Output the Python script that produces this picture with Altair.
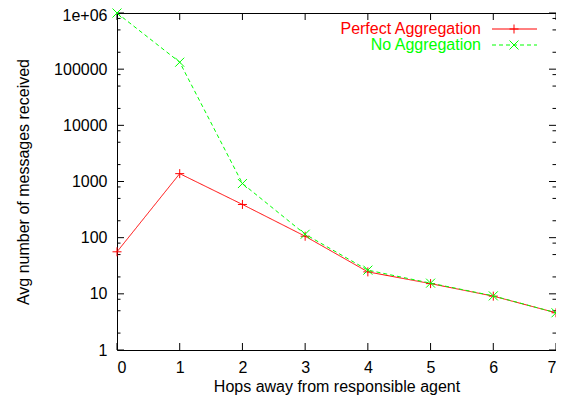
import altair as alt
import pandas as pd

hops = [0, 1, 2, 3, 4, 5, 6, 7]
perfect = [56, 1380, 390, 106, 24.6, 15.2, 9.1, 4.6]
noagg = [1000000, 133000, 920, 115, 26.4, 15.5, 9.2, 4.6]
series_names = ["Perfect Aggregation", "No Aggregation"]
series_colors = ["#ff0000", "#00ff00"]

x_ticks = [0, 1, 2, 3, 4, 5, 6, 7]
y_major = [1, 10, 100, 1000, 10000, 100000, 1000000]
y_minor = [m * 10 ** e for e in range(6) for m in (2, 5, 8)]

W, H = 439, 337
FONT = "Liberation Sans"
FS = 16

xs = alt.Scale(domain=[0, 7], nice=False, zero=False)
ys = alt.Scale(type="log", domain=[1, 1000000], nice=False)

PLUS = "M-1,0L1,0M0,-1L0,1"
CROSS = "M-1,-1L1,1M-1,1L1,-1"
shapes = [PLUS, CROSS]
dashes = [[1, 0], [4, 3]]

layers = []

base_df = pd.DataFrame({"x": hops, "y": perfect})
axis_layer = alt.Chart(base_df).mark_point(opacity=0).encode(
    x=alt.X("x:Q", scale=xs,
            axis=alt.Axis(values=x_ticks, title="Hops away from responsible agent",
                          ticks=False, domain=False, grid=False, labelPadding=9,
                          titlePadding=3, format="d")),
    y=alt.Y("y:Q", scale=ys,
            axis=alt.Axis(values=y_major, title="Avg number of messages received",
                          ticks=False, domain=False, grid=False, labelPadding=10,
                          titlePadding=22,
                          labelOffset={"condition": {"test": "datum.value >= 1000000", "value": 2},
                                       "value": 0},
                          labelExpr="datum.value >= 1000000 ? '1e+06' : format(datum.value, 'd')")),
)
layers.append(axis_layer)

xt = pd.DataFrame({"x": x_ticks})
layers.append(alt.Chart(xt).mark_rule(color="black", strokeWidth=1).encode(
    x=alt.X("x:Q", scale=xs), y=alt.value(H), y2=alt.value(H - 7)))
layers.append(alt.Chart(xt).mark_rule(color="black", strokeWidth=1).encode(
    x=alt.X("x:Q", scale=xs), y=alt.value(0), y2=alt.value(7)))
ym = pd.DataFrame({"y": y_major})
yn = pd.DataFrame({"y": y_minor})
for d, L in ((ym, 7), (yn, 3.5)):
    layers.append(alt.Chart(d).mark_rule(color="black", strokeWidth=1).encode(
        y=alt.Y("y:Q", scale=ys), x=alt.value(0), x2=alt.value(L)))
    layers.append(alt.Chart(d).mark_rule(color="black", strokeWidth=1).encode(
        y=alt.Y("y:Q", scale=ys), x=alt.value(W), x2=alt.value(W - L)))

for vals, name, col, shp, dash in zip([perfect, noagg], series_names, series_colors, shapes, dashes):
    df = pd.DataFrame({"x": hops, "y": vals})
    layers.append(alt.Chart(df).mark_line(color=col, strokeWidth=1, strokeDash=dash).encode(
        x=alt.X("x:Q", scale=xs), y=alt.Y("y:Q", scale=ys)))
    layers.append(alt.Chart(df).mark_point(color=col, shape=shp, size=81, filled=False,
                                           strokeWidth=1, opacity=1).encode(
        x=alt.X("x:Q", scale=xs), y=alt.Y("y:Q", scale=ys)))

leg_y = [16, 32]
for i, (name, col, shp, dash) in enumerate(zip(series_names, series_colors, shapes, dashes)):
    ld = pd.DataFrame({"name": [name]})
    layers.append(alt.Chart(ld).mark_text(align="right", baseline="middle", font=FONT,
                                          fontSize=FS, color=col).encode(
        text="name:N", x=alt.value(364), y=alt.value(leg_y[i])))
    layers.append(alt.Chart(ld).mark_rule(color=col, strokeWidth=1, strokeDash=dash).encode(
        x=alt.value(375), x2=alt.value(420), y=alt.value(leg_y[i])))
    layers.append(alt.Chart(ld).mark_point(color=col, shape=shp, size=81, filled=False,
                                           strokeWidth=1, opacity=1).encode(
        x=alt.value(397), y=alt.value(leg_y[i])))

chart = alt.layer(*layers).properties(
    width=W, height=H, autosize="none", background="white",
    padding={"left": 109, "top": 5, "right": 0, "bottom": 47},
).configure_view(stroke="black", strokeWidth=1).configure_axis(
    labelFont=FONT, labelFontSize=FS, labelColor="black",
    titleFont=FONT, titleFontSize=FS, titleColor="black", titleFontWeight="normal",
)

chart.save("out.html", embed_options={"renderer": "svg", "actions": False})
